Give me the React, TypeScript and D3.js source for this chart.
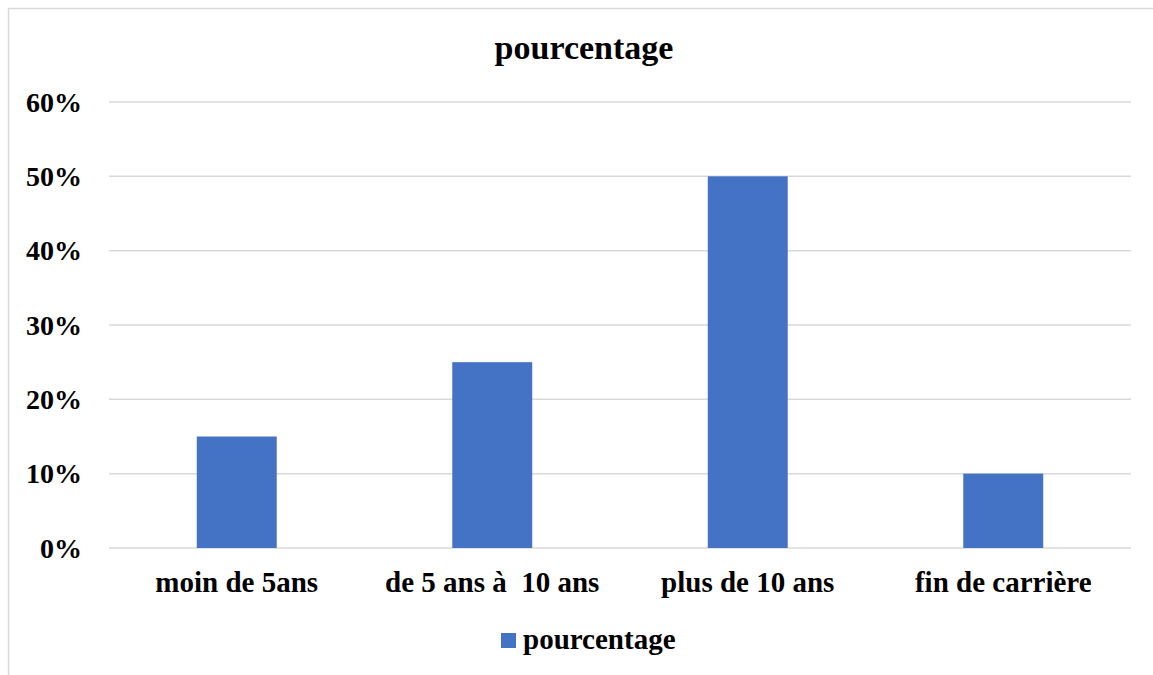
import React from "react";
import * as d3 from "d3";

const categories = ["moin de 5ans", "de 5 ans à  10 ans", "plus de 10 ans", "fin de carrière"];
const values = [0.15, 0.25, 0.5, 0.1];
const yTicks = [0, 0.1, 0.2, 0.3, 0.4, 0.5, 0.6];
const seriesName = "pourcentage";
const title = "pourcentage";

const W = 1153;
const H = 675;
const FONT = "'Liberation Serif', 'Times New Roman', serif";
const BLUE = "#4472C4";
const GRID = "#d9d9d9";

export default function App() {
  const left = 109;
  const right = 1131;
  const top = 102;
  const bottom = 548;
  const x = d3
    .scaleBand<string>()
    .domain(categories)
    .range([left, right])
    .paddingInner(0.687)
    .paddingOuter(0.3435);
  const y = d3.scaleLinear().domain([0, 0.6]).range([bottom, top]);
  const fmt = d3.format(".0%");
  const cx = 584;

  return (
    <div style={{ position: "absolute", left: 0, top: 0 }}>
      <svg width={W} height={H} style={{ display: "block", background: "#fff" }}>
        <rect x={8.5} y={8.5} width={1170} height={700} fill="#fff" stroke={GRID} strokeWidth={1.5} />
        <text x={cx} y={59} textAnchor="middle" fontFamily={FONT} fontWeight="bold" fontSize={34} fill="#000">
          {title}
        </text>
        {yTicks.map((t) => (
          <g key={t}>
            <line x1={left} x2={right} y1={y(t)} y2={y(t)} stroke={GRID} strokeWidth={1.5} />
            <text
              x={82}
              y={y(t)}
              dy="0.35em"
              textAnchor="end"
              fontFamily={FONT}
              fontWeight="bold"
              fontSize={28}
              fill="#000"
            >
              {fmt(t)}
            </text>
          </g>
        ))}
        {categories.map((c, i) => (
          <rect
            key={c}
            x={x(c)}
            y={y(values[i])}
            width={x.bandwidth()}
            height={y(0) - y(values[i])}
            fill={BLUE}
          />
        ))}
        {categories.map((c) => (
          <text
            key={c}
            x={(x(c) as number) + x.bandwidth() / 2}
            y={592}
            textAnchor="middle"
            fontFamily={FONT}
            fontWeight="bold"
            fontSize={29}
            fill="#000"
            style={{ whiteSpace: "pre" }}
          >
            {c}
          </text>
        ))}
        <g>
          <rect x={501} y={633} width={15} height={15} fill={BLUE} />
          <text x={523} y={649} fontFamily={FONT} fontWeight="bold" fontSize={29} fill="#000">
            {seriesName}
          </text>
        </g>
      </svg>
    </div>
  );
}
